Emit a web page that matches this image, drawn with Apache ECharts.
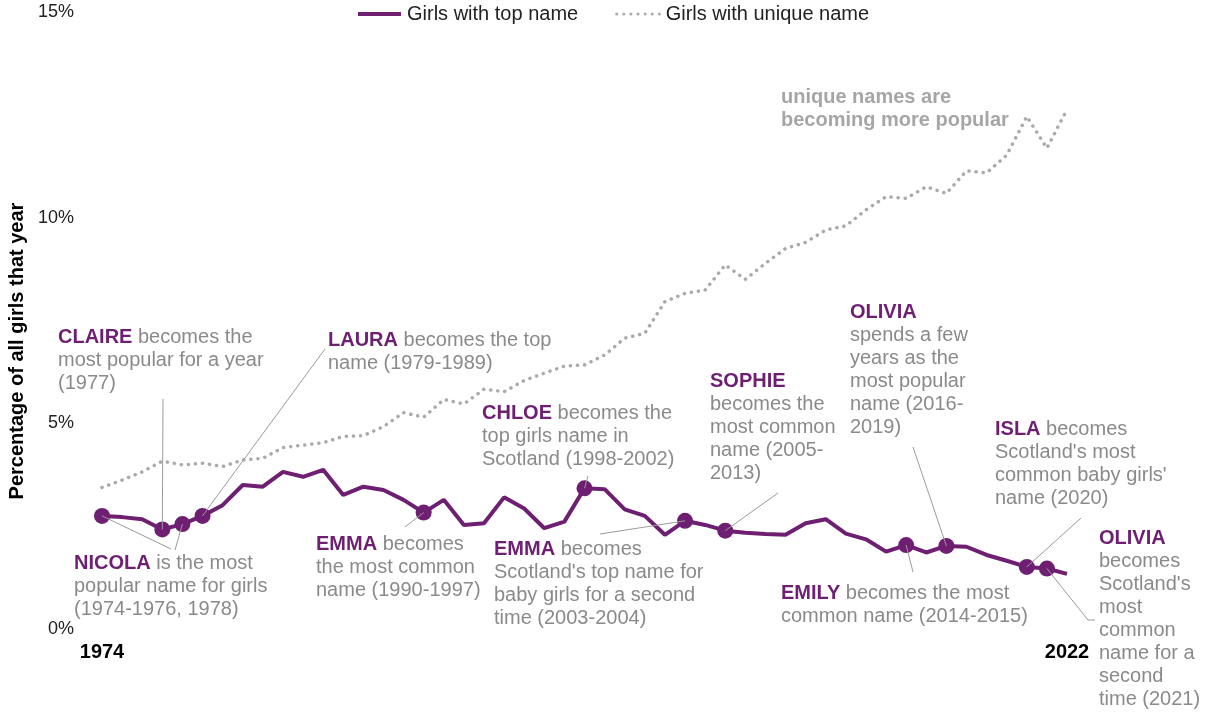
<!DOCTYPE html>
<html>
<head>
<meta charset="utf-8">
<script src="https://cdn.jsdelivr.net/npm/echarts@6/dist/echarts.min.js"></script>
<style>
html,body{margin:0;padding:0;background:#fff;}
#chart{width:1206px;height:713px;}
</style>
</head>
<body>
<div id="chart"></div>
<script>
// ---- data ----
var years = [];
for (var y = 1974; y <= 2022; y++) years.push(String(y));
var topName = [2.75,2.72,2.67,2.42,2.55,2.75,3.01,3.50,3.46,3.82,
               3.70,3.87,3.26,3.46,3.38,3.14,2.83,3.14,2.53,2.57,
               3.20,2.93,2.45,2.61,3.42,3.40,2.91,2.75,2.29,2.63,
               2.53,2.39,2.34,2.31,2.29,2.57,2.67,2.32,2.18,1.88,
               2.04,1.86,2.02,2.00,1.80,1.66,1.51,1.47,1.34];
var uniqueName = [3.44,3.62,3.82,4.08,3.99,4.03,3.95,4.11,4.15,4.41,
                  4.47,4.53,4.68,4.70,4.92,5.26,5.15,5.58,5.47,5.83,
                  5.77,6.04,6.22,6.39,6.42,6.66,7.07,7.19,7.96,8.16,
                  8.24,8.85,8.50,8.89,9.25,9.40,9.70,9.80,10.19,10.51,
                  10.47,10.75,10.59,11.14,11.09,11.52,12.46,11.69,12.63];
var highlightYears = ['1974','1977','1978','1979','1990','1998','2003','2005','2014','2016','2020','2021'];
var yTicks = [0, 5, 10, 15];
var seriesNames = ['Girls with top name', 'Girls with unique name'];

var PURPLE = '#6e1f72';
var GREY_TXT = '#8a8a8a';
var FONT = 'Liberation Sans, Arial, sans-serif';
var FS = 20;

var chart = echarts.init(document.getElementById('chart'));

var dots = highlightYears.map(function (yr) {
  return [yr, topName[years.indexOf(yr)]];
});

chart.setOption({
  animation: false,
  textStyle: { fontFamily: FONT },
  legend: {
    left: 351, top: -1,
    itemWidth: 43, itemHeight: 18, itemGap: 37,
    data: [
      { name: seriesNames[0], lineStyle: { width: 4 } },
      { name: seriesNames[1], lineStyle: { width: 3 } }
    ],
    itemStyle: { opacity: 0, color: 'transparent', borderWidth: 0 },
    textStyle: { fontSize: FS, color: '#222', fontFamily: FONT, padding: [0, 0, 0, 1] }
  },
  grid: { left: 102, right: 139, top: 12, bottom: 84, containLabel: false },
  xAxis: {
    type: 'category', data: years, boundaryGap: false,
    axisLine: { show: false }, axisTick: { show: false }, splitLine: { show: false },
    axisLabel: {
      margin: 13, fontSize: FS, fontWeight: 'bold', color: '#000', fontFamily: FONT,
      interval: function (i, v) { return v === '1974' || v === '2022'; }
    }
  },
  yAxis: {
    type: 'value', min: yTicks[0], max: yTicks[yTicks.length - 1], interval: 5,
    axisLine: { show: false }, axisTick: { show: false }, splitLine: { show: false },
    axisLabel: { margin: 28, fontSize: 18, color: '#222', fontFamily: FONT, formatter: '{value}%' }
  },
  series: [
    {
      name: seriesNames[0], type: 'line', data: topName, symbol: 'none',
      lineStyle: { color: PURPLE, width: 4 }, itemStyle: { color: PURPLE }, z: 3
    },
    {
      name: seriesNames[1], type: 'line', data: uniqueName, symbol: 'none',
      lineStyle: { color: '#aaaaaa', width: 3.5, type: [0.1, 7], cap: 'round' },
      itemStyle: { color: '#aaaaaa' }, z: 2
    },
    {
      name: 'highlight', type: 'scatter', data: dots, symbolSize: 16,
      itemStyle: { color: PURPLE, opacity: 1 }, z: 4
    }
  ]
});

function rt(x, y, parts, extra) {
  return {
    type: 'text', z: 10,
    style: Object.assign({
      x: x, y: y, text: parts, verticalAlign: 'top', align: 'left',
      font: FS + 'px ' + FONT,
      rich: {
        b: { fontSize: FS, fontWeight: 'bold', fill: PURPLE, fontFamily: FONT, lineHeight: 23 },
        g: { fontSize: FS, fill: GREY_TXT, fontFamily: FONT, lineHeight: 23 },
        u: { fontSize: FS, fontWeight: 'bold', fill: '#a6a6a6', fontFamily: FONT, lineHeight: 23 }
      }
    }, extra || {})
  };
}
function pt(yr) {
  return chart.convertToPixel({ seriesIndex: 0 }, [years.indexOf(yr), topName[years.indexOf(yr)]]);
}
function leader(pts) {
  return { type: 'polyline', z: 9, silent: true,
    shape: { points: pts }, style: { stroke: '#9a9a9a', lineWidth: 1, fill: null } };
}

var g = [
  rt(58, 326, '{b|CLAIRE} {g|becomes the}\n{g|most popular for a year}\n{g|(1977)}'),
  rt(74, 552, '{b|NICOLA} {g|is the most}\n{g|popular name for girls}\n{g|(1974-1976, 1978)}'),
  rt(328, 329, '{b|LAURA} {g|becomes the top}\n{g|name (1979-1989)}'),
  rt(316, 533, '{b|EMMA} {g|becomes}\n{g|the most common}\n{g|name (1990-1997)}'),
  rt(482, 402, '{b|CHLOE} {g|becomes the}\n{g|top girls name in}\n{g|Scotland (1998-2002)}'),
  rt(494, 538, '{b|EMMA} {g|becomes}\n{g|Scotland\'s top name for}\n{g|baby girls for a second}\n{g|time (2003-2004)}'),
  rt(710, 370, '{b|SOPHIE}\n{g|becomes the}\n{g|most common}\n{g|name (2005-}\n{g|2013)}'),
  rt(850, 301, '{b|OLIVIA}\n{g|spends a few}\n{g|years as the}\n{g|most popular}\n{g|name (2016-}\n{g|2019)}'),
  rt(781, 582, '{b|EMILY} {g|becomes the most}\n{g|common name (2014-2015)}'),
  rt(995, 418, '{b|ISLA} {g|becomes}\n{g|Scotland\'s most}\n{g|common baby girls\'}\n{g|name (2020)}'),
  rt(1099, 527, '{b|OLIVIA}\n{g|becomes}\n{g|Scotland\'s}\n{g|most}\n{g|common}\n{g|name for a}\n{g|second}\n{g|time (2021)}'),
  rt(781, 86, '{u|unique names are}\n{u|becoming more popular}'),
  {
    type: 'text', z: 10, rotation: Math.PI / 2, x: 17, y: 351,
    style: { text: 'Percentage of all girls that year', align: 'center', verticalAlign: 'middle',
      font: 'bold ' + FS + 'px ' + FONT, fill: '#000' }
  },
  leader([[163, 399], pt('1977')]),
  leader([[171, 549], pt('1974')]),
  leader([[175, 550], pt('1978')]),
  leader([[325, 349], pt('1979')]),
  leader([[405, 527], pt('1990')]),
  leader([[588, 476], pt('1998')]),
  leader([[600, 534], pt('2003')]),
  leader([[778, 493], pt('2005')]),
  leader([[913, 447], pt('2016')]),
  leader([[913, 572], pt('2014')]),
  leader([[1081, 518], pt('2020')]),
  leader([[1095, 620], [1088, 620], pt('2021')])
];
chart.setOption({ graphic: g });
</script>
</body>
</html>
